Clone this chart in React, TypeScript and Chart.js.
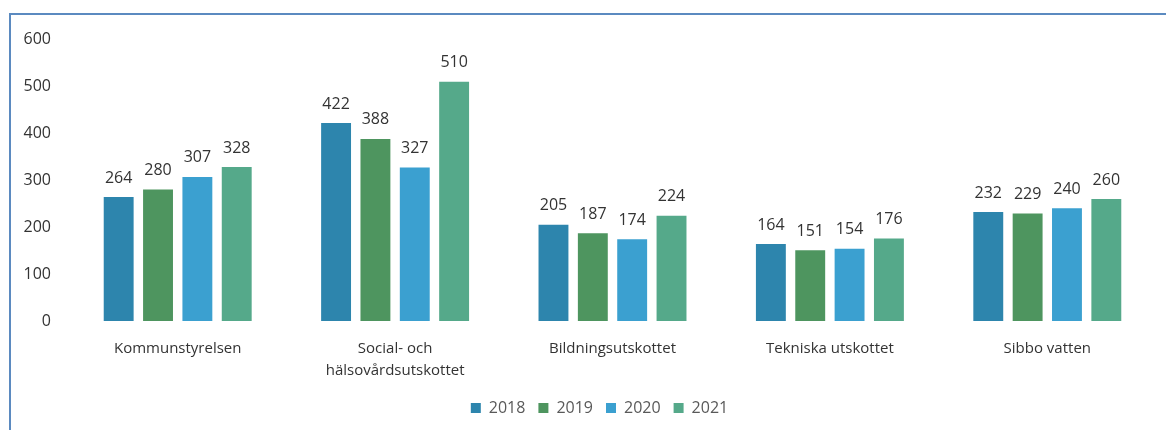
import React, { useEffect, useRef } from "react";
import { Chart, registerables } from "chart.js";

Chart.register(...registerables);

const categories: (string | string[])[] = [
  "Kommunstyrelsen",
  ["Social- och", "hälsovårdsutskottet"],
  "Bildningsutskottet",
  "Tekniska utskottet",
  "Sibbo vatten",
];
const seriesNames = ["2018", "2019", "2020", "2021"];
const values2018 = [264, 422, 205, 164, 232];
const values2019 = [280, 388, 187, 151, 229];
const values2020 = [307, 327, 174, 154, 240];
const values2021 = [328, 510, 224, 176, 260];
const seriesColors = ["#2D85AD", "#4E955F", "#3BA0D0", "#55A98A"];
const yTicks = [0, 100, 200, 300, 400, 500, 600];

const FONT = "'Open Sans', 'DejaVu Sans', sans-serif";

const valueLabels = {
  id: "valueLabels",
  afterDatasetsDraw(chart: any) {
    const ctx = chart.ctx;
    ctx.save();
    ctx.font = `16px ${FONT}`;
    ctx.fillStyle = "#333333";
    ctx.textAlign = "center";
    ctx.textBaseline = "bottom";
    chart.data.datasets.forEach((ds: any, i: number) => {
      const meta = chart.getDatasetMeta(i);
      meta.data.forEach((bar: any, j: number) => {
        ctx.fillText(String(ds.data[j]), bar.x, bar.y - 11);
      });
    });
    ctx.restore();
  },
};

const legendShift = {
  id: "legendShift",
  afterLayout(chart: any) {
    const l = chart.legend;
    if (l) {
      l.left += 16;
      l.right += 16;
    }
  },
};

export default function App() {
  const ref = useRef<HTMLCanvasElement>(null);
  useEffect(() => {
    if (!ref.current) return;
    const all = [values2018, values2019, values2020, values2021];
    const chart = new Chart(ref.current, {
      type: "bar",
      data: {
        labels: categories,
        datasets: seriesNames.map((n, i) => ({
          label: n,
          data: all[i],
          backgroundColor: seriesColors[i],
          borderWidth: 0,
          categoryPercentage: 0.724,
          barPercentage: 0.76,
        })),
      },
      options: {
        animation: false,
        responsive: true,
        maintainAspectRatio: false,
        layout: { padding: { top: 6, right: 10, left: 0, bottom: 4 } },
        plugins: {
          tooltip: { enabled: false },
          legend: {
            position: "bottom",
            labels: {
              boxWidth: 10,
              boxHeight: 10,
              padding: 13,
              color: "#595959",
              font: { family: FONT, size: 16 },
            },
          },
        },
        scales: {
          x: {
            grid: { display: false, drawTicks: false },
            border: { display: false },
            ticks: {
              color: "#333333",
              padding: 17,
              maxRotation: 0,
              autoSkip: false,
              font: { family: FONT, size: 15, lineHeight: 1.45 },
            },
            afterFit: (s: any) => {
              s.height = 66;
            },
          },
          y: {
            min: 0,
            max: 600,
            grid: { display: false, drawTicks: false },
            border: { display: false },
            afterBuildTicks: (s: any) => {
              s.ticks = yTicks.map((v) => ({ value: v }));
            },
            ticks: {
              color: "#333333",
              padding: 18,
              font: { family: FONT, size: 16, lineHeight: 0.8 },
            },
            afterFit: (s: any) => {
              s.width = 58;
            },
          },
        },
      },
      plugins: [valueLabels, legendShift],
    });
    return () => chart.destroy();
  }, []);
  return (
    <div
      style={{
        position: "fixed",
        left: 9,
        top: 13,
        width: 1157,
        height: 417,
        borderTop: "2px solid #5B8AC0",
        borderLeft: "2px solid #5B8AC0",
        background: "#fff",
      }}
    >
      <div style={{ position: "relative", width: 1155, height: 415 }}>
        <canvas ref={ref} />
      </div>
    </div>
  );
}
